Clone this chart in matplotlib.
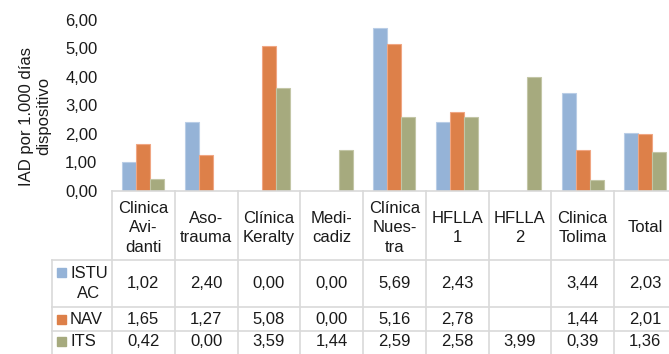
import numpy as np
import matplotlib.pyplot as plt
from matplotlib import transforms
from matplotlib.lines import Line2D
from matplotlib.patches import Rectangle
from matplotlib.ticker import FuncFormatter

plt.rcParams['font.family'] = ['Liberation Sans', 'DejaVu Sans']

# Data
categories = ["Clinica\nAvi-\ndanti", "Aso-\ntrauma", "Clínica\nKeralty", "Medi-\ncadiz",
              "Clínica\nNues-\ntra", "HFLLA\n1", "HFLLA\n2", "Clinica\nTolima", "Total"]
series_names = ["ISTU\nAC", "NAV", "ITS"]
istuac = [1.02, 2.40, 0.00, 0.00, 5.69, 2.43, np.nan, 3.44, 2.03]
nav = [1.65, 1.27, 5.08, 0.00, 5.16, 2.78, np.nan, 1.44, 2.01]
its = [0.42, 0.00, 3.59, 1.44, 2.59, 2.58, 3.99, 0.39, 1.36]
yticks = [0, 1, 2, 3, 4, 5, 6]

colors = ["#95B3D7", "#DD8049", "#A6AA7E"]
edges = ["#B9CDE6", "#F0A683", "#C3C6A6"]
grid_col = "#D9D9D9"
text_col = "#1A1A1A"

W, H = 669, 354
fig = plt.figure(figsize=(W / 100, H / 100), dpi=100)

# pixel helpers (y measured from top)
def fx(px):
    return px / W

def fy(py):
    return 1 - py / H

col_w = 62.75
ax_left, ax_top, ax_bot = 112, 19.5, 191
ax = fig.add_axes([fx(ax_left), fy(ax_bot), 9 * col_w / W, (ax_bot - ax_top) / H])

x = np.arange(len(categories))
bw = 0.223
all_series = [istuac, nav, its]
for k, vals in enumerate(all_series):
    ax.bar(x + (k - 1) * bw, vals, width=bw, color=colors[k],
           edgecolor=edges[k], linewidth=0.8)

ax.set_xlim(-0.5, len(categories) - 0.5)
ax.set_ylim(0, 6)
ax.set_yticks(yticks)
ax.yaxis.set_major_formatter(FuncFormatter(lambda v, p: f"{v:.2f}".replace('.', ',')))
ax.tick_params(axis='y', length=0, pad=10.5, labelsize=12, labelcolor=text_col)
ax.set_xticks([])
for s in ['left', 'right', 'top']:
    ax.spines[s].set_visible(False)
ax.spines['bottom'].set_color(grid_col)
ax.spines['bottom'].set_linewidth(1.2)

fig.text(fx(35), fy(116), "IAD por 1.000 días\ndispositivo", rotation=90,
         ha='center', va='center', multialignment='center', fontsize=12,
         color=text_col, linespacing=1.15)

# data table under the chart
tr = transforms.blended_transform_factory(ax.transData, fig.transFigure)
for k in range(len(categories) + 1):
    fig.add_artist(Line2D([k - 0.5, k - 0.5], [fy(ax_bot), 0], transform=tr,
                          color=grid_col, lw=1.2))
fig.add_artist(Line2D([fx(52), fx(52)], [fy(260), 0], transform=fig.transFigure,
                      color=grid_col, lw=1.2))
for py in [260, 307, 331]:
    fig.add_artist(Line2D([fx(52), 1], [fy(py), fy(py)], transform=fig.transFigure,
                          color=grid_col, lw=1.2))

for i, cat in enumerate(categories):
    fig.text(i, fy(228), cat, transform=tr, ha='center', va='center',
             multialignment='center', fontsize=12, color=text_col, linespacing=1.38)

row_y = [283.5, 319, 342]
for k, vals in enumerate(all_series):
    for i, v in enumerate(vals):
        if not np.isnan(v):
            fig.text(i, fy(row_y[k]), f"{v:.2f}".replace('.', ','), transform=tr,
                     ha='center', va='center', fontsize=12, color=text_col)

label_y = [283.5, 319, 342]
marker_y = [272, 319, 341]
for k, name in enumerate(series_names):
    fig.add_artist(Rectangle((fx(57), fy(marker_y[k] + 4.5)), 9 / W, 9 / H,
                             transform=fig.transFigure, color=colors[k]))
    fig.text(fx(70), fy(label_y[k]), name, ha='left', va='center',
             multialignment='center', fontsize=12, color=text_col, linespacing=1.38)

fig.savefig("out.png", dpi=100)
